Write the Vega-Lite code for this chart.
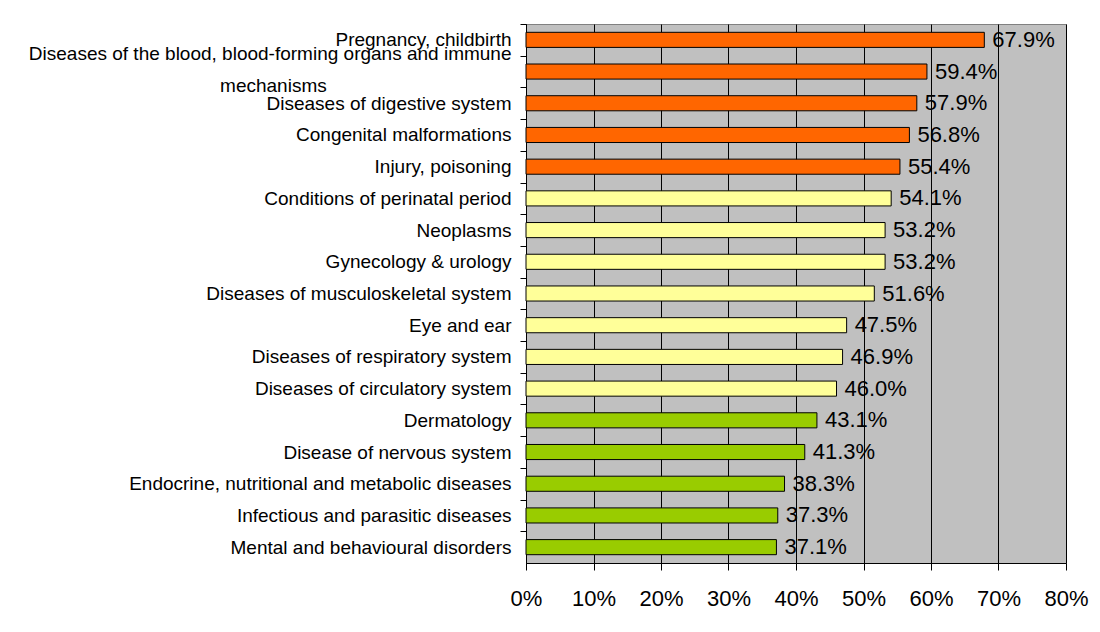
{
  "$schema": "https://vega.github.io/schema/vega-lite/v6.json",
  "width": 540,
  "height": 539,
  "autosize": "none",
  "padding": {"left": 526, "top": 24, "right": 34, "bottom": 69},
  "background": "white",
  "config": {
    "view": {"fill": "#C0C0C0", "stroke": "#808080", "strokeWidth": 1},
    "font": "Liberation Sans"
  },
  "data": {
    "values": [
      {"cause": "Pregnancy, childbirth", "share": 0.679, "group": "high"},
      {"cause": "Diseases of the blood, blood-forming organs and immune mechanisms", "share": 0.594, "group": "high"},
      {"cause": "Diseases of digestive system", "share": 0.579, "group": "high"},
      {"cause": "Congenital malformations", "share": 0.568, "group": "high"},
      {"cause": "Injury, poisoning", "share": 0.554, "group": "high"},
      {"cause": "Conditions of perinatal period", "share": 0.541, "group": "mid"},
      {"cause": "Neoplasms", "share": 0.532, "group": "mid"},
      {"cause": "Gynecology & urology", "share": 0.532, "group": "mid"},
      {"cause": "Diseases of musculoskeletal system", "share": 0.516, "group": "mid"},
      {"cause": "Eye and ear", "share": 0.475, "group": "mid"},
      {"cause": "Diseases of respiratory system", "share": 0.469, "group": "mid"},
      {"cause": "Diseases of circulatory system", "share": 0.46, "group": "mid"},
      {"cause": "Dermatology", "share": 0.431, "group": "low"},
      {"cause": "Disease of nervous system", "share": 0.413, "group": "low"},
      {"cause": "Endocrine, nutritional and metabolic diseases", "share": 0.383, "group": "low"},
      {"cause": "Infectious and parasitic diseases", "share": 0.373, "group": "low"},
      {"cause": "Mental and behavioural disorders", "share": 0.371, "group": "low"}
    ]
  },
  "encoding": {
    "y": {
      "field": "cause", "type": "nominal", "sort": null, "title": null,
      "scale": {"paddingInner": 0.524, "paddingOuter": 0.262},
      "axis": {
        "orient": "left",
        "ticks": true, "tickSize": 6, "tickColor": "black", "tickWidth": 1,
        "tickOffset": -15.85,
        "grid": false,
        "domain": true, "domainColor": "black", "domainWidth": 1,
        "labelPadding": 9, "labelLimit": 600,
        "labelFont": "Liberation Sans", "labelFontSize": 19, "labelColor": "black",
        "labelLineHeight": 32,
        "labelOffset": {"condition": {"test": "datum.value == 'Diseases of the blood, blood-forming organs and immune mechanisms'", "value": -2.15}, "value": 15.85},
        "labelExpr": "datum.value == 'Diseases of the blood, blood-forming organs and immune mechanisms' ? ['Diseases of the blood, blood-forming organs and immune', pad('mechanisms', 45, '\u00a0') + '\u200b'] : datum.value"
      }
    },
    "x": {
      "field": "share", "type": "quantitative", "title": null,
      "scale": {"domain": [0, 0.8], "nice": false},
      "axis": {
        "values": [0, 0.1, 0.2, 0.3, 0.4, 0.5, 0.6, 0.7, 0.8],
        "format": ".0%",
        "grid": true, "gridColor": "black", "gridWidth": 1, "gridOpacity": 1,
        "domain": true, "domainColor": "black",
        "ticks": true, "tickColor": "black", "tickSize": 7,
        "labelPadding": 18, "labelFont": "Liberation Sans", "labelFontSize": 22, "labelColor": "black",
        "labelFlush": false
      }
    }
  },
  "layer": [
    {
      "mark": {"type": "bar", "stroke": "black", "strokeWidth": 1},
      "encoding": {
        "color": {
          "field": "group", "type": "nominal", "legend": null,
          "scale": {"domain": ["high", "mid", "low"], "range": ["#FF6600", "#FFFF99", "#99CC00"]}
        }
      }
    },
    {
      "mark": {"type": "text", "align": "left", "baseline": "middle", "dx": 8, "fontSize": 22, "font": "Liberation Sans", "color": "black"},
      "encoding": {
        "text": {"field": "share", "type": "quantitative", "format": ".1%"}
      }
    }
  ]
}
